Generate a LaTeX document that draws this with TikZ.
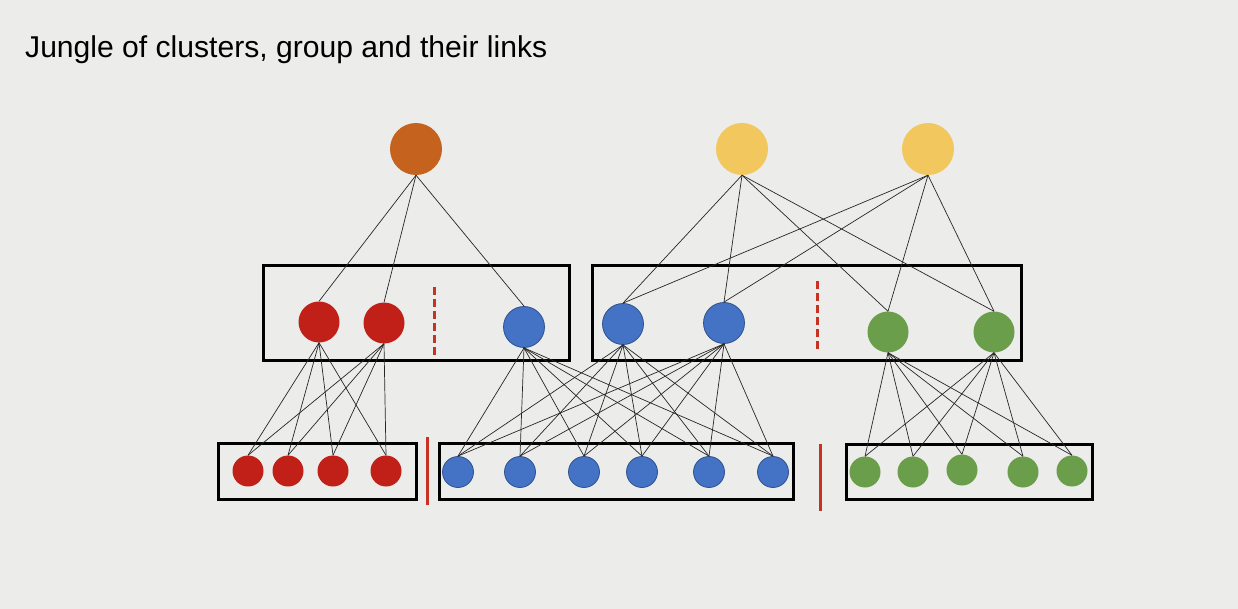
\documentclass[tikz,border=0pt]{standalone}
\usepackage{fontspec}
\setmainfont{Liberation Sans}
\definecolor{bg}{RGB}{236,236,234}
\definecolor{corange}{RGB}{197,99,30}
\definecolor{cyellow}{RGB}{242,200,94}
\definecolor{cred}{RGB}{192,32,24}
\definecolor{cblue}{RGB}{68,114,196}
\definecolor{cblueb}{RGB}{47,82,143}
\definecolor{cgreen}{RGB}{106,158,75}
\definecolor{csep}{RGB}{200,50,35}
\begin{document}
\begin{tikzpicture}[x=1pt,y=-1pt,
  dot/.style={circle,inner sep=0pt,minimum size=#1},
  topdot/.style={dot=52pt},
  middot/.style={dot=41pt},
  lowdot/.style={dot=31pt},
  reddot/.style={fill=cred},
  bluedot/.style={fill=cblue,draw=cblueb,line width=0.8pt},
  greendot/.style={fill=cgreen},
  group/.style={draw=black,line width=3pt},
  link/.style={draw=black!85,line width=0.7pt},
  sepline/.style={draw=csep,line width=3pt},
  dashsep/.style={draw=csep,line width=3pt,dash pattern=on 8pt off 4pt}]
\useasboundingbox[fill=bg] (0,0) rectangle (1238,609);
\node[anchor=base west,font=\fontsize{30.1}{35}\selectfont,inner sep=0pt] (title) at (25,58) {Jungle of clusters, group and their links};
% group boxes
\draw[group] (263,266) rectangle (569,360);
\draw[group] (592,266) rectangle (1021,360);
\draw[group] (218,443) rectangle (416,499);
\draw[group] (439,443) rectangle (793,499);
\draw[group] (846,444) rectangle (1092,499);
% separators
\coordinate (s1a) at (427,437); \coordinate (s1b) at (427,505);
\coordinate (s2a) at (820,444); \coordinate (s2b) at (820,511);
\draw[sepline] (s1a) -- (s1b);
\draw[sepline] (s2a) -- (s2b);
\coordinate (d1a) at (434,287); \coordinate (d1b) at (434,355);
\coordinate (d2a) at (817,281); \coordinate (d2b) at (817,350);
\draw[dashsep] (d1a) -- (d1b);
\draw[dashsep] (d2a) -- (d2b);
% top nodes
\node[topdot,fill=corange] (O) at (416,149) {};
\node[topdot,fill=cyellow] (Y1) at (742,149) {};
\node[topdot,fill=cyellow] (Y2) at (928,149) {};
% middle nodes
\node[middot,reddot] (R1) at (319,322) {};
\node[middot,reddot] (R2) at (384,323) {};
\node[middot,bluedot] (B1) at (524,327) {};
\node[middot,bluedot] (B2) at (623,324) {};
\node[middot,bluedot] (B3) at (724,323) {};
\node[middot,greendot] (G1) at (888,332) {};
\node[middot,greendot] (G2) at (994,332) {};
% bottom nodes
\node[lowdot,reddot] (r1) at (248,471) {};
\node[lowdot,reddot] (r2) at (288,471) {};
\node[lowdot,reddot] (r3) at (333,471) {};
\node[lowdot,reddot] (r4) at (386,471) {};
\node[lowdot,bluedot] (b1) at (458,472) {};
\node[lowdot,bluedot] (b2) at (520,472) {};
\node[lowdot,bluedot] (b3) at (584,472) {};
\node[lowdot,bluedot] (b4) at (642,472) {};
\node[lowdot,bluedot] (b5) at (709,472) {};
\node[lowdot,bluedot] (b6) at (773,472) {};
\node[lowdot,greendot] (g1) at (865,472) {};
\node[lowdot,greendot] (g2) at (913,472) {};
\node[lowdot,greendot] (g3) at (962,470) {};
\node[lowdot,greendot] (g4) at (1023,472) {};
\node[lowdot,greendot] (g5) at (1072,471) {};
% links top -> middle
\foreach \t in {R1,R2,B1} \draw[link] (O.south) -- (\t.north);
\foreach \s in {Y1,Y2} \foreach \t in {B2,B3,G1,G2} \draw[link] (\s.south) -- (\t.north);
% links middle -> bottom
\foreach \s in {R1,R2} \foreach \t in {r1,r2,r3,r4} \draw[link] (\s.south) -- (\t.north);
\foreach \s in {B1,B2,B3} \foreach \t in {b1,b2,b3,b4,b5,b6} \draw[link] (\s.south) -- (\t.north);
\foreach \s in {G1,G2} \foreach \t in {g1,g2,g3,g4,g5} \draw[link] (\s.south) -- (\t.north);
\end{tikzpicture}
\end{document}
